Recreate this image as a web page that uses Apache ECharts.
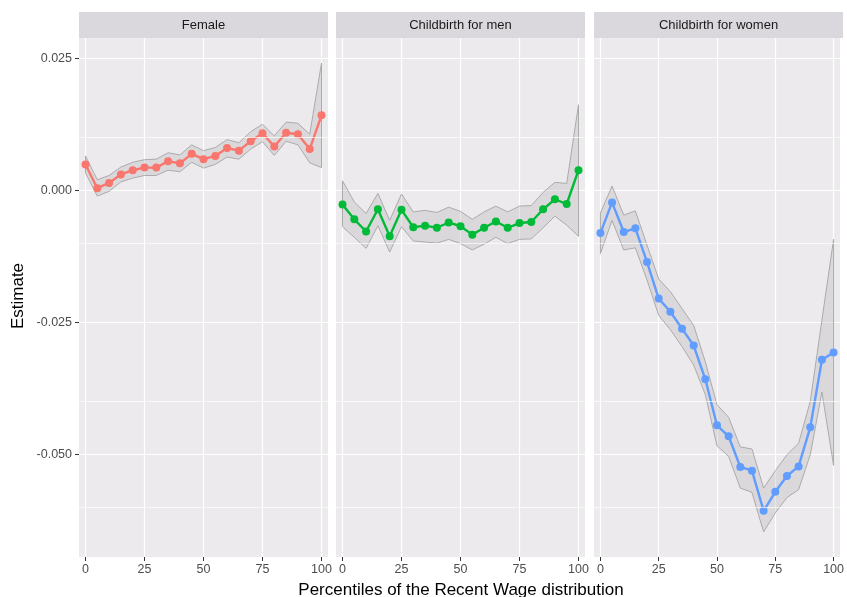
<!DOCTYPE html>
<html>
<head>
<meta charset="utf-8">
<script src="https://cdn.jsdelivr.net/npm/echarts@6/dist/echarts.min.js"></script>
<style>
  html, body { margin: 0; padding: 0; background: #ffffff; }
  #chart { width: 847px; height: 597px; }
</style>
</head>
<body>
<div id="chart"></div>
<script>
// Percentile positions shared by all three facets
const percentiles = [0, 5, 10, 15, 20, 25, 30, 35, 40, 45, 50, 55, 60, 65, 70, 75, 80, 85, 90, 95, 100];

const panelTitles = ['Female', 'Childbirth for men', 'Childbirth for women'];

// Female
const femaleEst  = [0.0049, 0.0004, 0.0014, 0.0030, 0.0038, 0.0043, 0.0043, 0.0055, 0.0051, 0.0069, 0.0059, 0.0065, 0.0080, 0.0075, 0.0093, 0.0108, 0.0083, 0.0109, 0.0106, 0.0078, 0.0142];
const femaleLow  = [0.0033, -0.0011, -0.0002, 0.0016, 0.0023, 0.0028, 0.0028, 0.0038, 0.0035, 0.0053, 0.0042, 0.0049, 0.0063, 0.0059, 0.0078, 0.0092, 0.0066, 0.0093, 0.0086, 0.0052, 0.0043];
const femaleHigh = [0.0065, 0.0020, 0.0028, 0.0044, 0.0053, 0.0058, 0.0059, 0.0071, 0.0067, 0.0086, 0.0075, 0.0081, 0.0096, 0.0090, 0.0111, 0.0125, 0.0103, 0.0129, 0.0127, 0.0106, 0.0241];

// Childbirth for men
const menEst  = [-0.0027, -0.0055, -0.0078, -0.0036, -0.0087, -0.0037, -0.0070, -0.0067, -0.0071, -0.0061, -0.0068, -0.0084, -0.0071, -0.0059, -0.0071, -0.0062, -0.0060, -0.0036, -0.0017, -0.0026, 0.0038];
const menLow  = [-0.0069, -0.0089, -0.0110, -0.0067, -0.0117, -0.0069, -0.0096, -0.0098, -0.0100, -0.0093, -0.0101, -0.0113, -0.0102, -0.0089, -0.0101, -0.0093, -0.0092, -0.0071, -0.0049, -0.0066, -0.0087];
const menHigh = [0.0018, -0.0022, -0.0044, -0.0006, -0.0057, -0.0007, -0.0041, -0.0038, -0.0042, -0.0032, -0.0040, -0.0055, -0.0041, -0.0030, -0.0041, -0.0030, -0.0029, -0.0004, 0.0015, 0.0013, 0.0162];

// Childbirth for women
const womenEst  = [-0.0081, -0.0023, -0.0079, -0.0072, -0.0136, -0.0205, -0.0230, -0.0262, -0.0294, -0.0358, -0.0445, -0.0466, -0.0524, -0.0531, -0.0607, -0.0571, -0.0541, -0.0523, -0.0449, -0.0321, -0.0307];
const womenLow  = [-0.0120, -0.0057, -0.0113, -0.0109, -0.0170, -0.0237, -0.0264, -0.0296, -0.0331, -0.0387, -0.0484, -0.0504, -0.0564, -0.0572, -0.0647, -0.0611, -0.0582, -0.0567, -0.0501, -0.0382, -0.0521];
const womenHigh = [-0.0043, 0.0008, -0.0047, -0.0039, -0.0104, -0.0168, -0.0192, -0.0224, -0.0256, -0.0325, -0.0406, -0.0430, -0.0486, -0.0490, -0.0564, -0.0531, -0.0501, -0.0479, -0.0400, -0.0246, -0.0093];

const xTicks = [0, 25, 50, 75, 100];
const yTicks = [-0.05, -0.025, 0, 0.025];
const yMinor = [-0.0625, -0.0375, -0.0125, 0.0125];

const xTitle = 'Percentiles of the Recent Wage distribution';
const yTitle = 'Estimate';

const panels = [
  { est: femaleEst, low: femaleLow, high: femaleHigh, color: '#F8766D' },
  { est: menEst,    low: menLow,    high: menHigh,    color: '#00BA38' },
  { est: womenEst,  low: womenLow,  high: womenHigh,  color: '#619CFF' }
];

const FONT = '"Liberation Sans", Arial, sans-serif';
const panelLefts = [79, 336, 594];
const panelWidth = 249;
const panelTop = 38;
const panelHeight = 519;
const panelBg = '#EDEAEE';
const stripBg = '#DAD8DC';

const grids = [], xAxes = [], yAxes = [], series = [], graphics = [];

panels.forEach((p, i) => {
  grids.push({
    left: panelLefts[i], top: panelTop, width: panelWidth, height: panelHeight,
    show: true, backgroundColor: panelBg, borderWidth: 0
  });

  xAxes.push({
    type: 'value', gridIndex: i, min: -2.75, max: 102.75, position: 'bottom',
    axisLine: { show: false, onZero: false },
    axisTick: { show: true, customValues: xTicks, length: 4, lineStyle: { color: '#333333', width: 1 } },
    axisLabel: { customValues: xTicks, color: '#4D4D4D', fontSize: 12.5, fontFamily: FONT, margin: 6 },
    splitLine: { show: true, lineStyle: { color: '#ffffff', width: 1.2 } }
  });

  yAxes.push({
    type: 'value', gridIndex: i, min: -0.06945, max: 0.02884, position: 'left',
    axisLine: { show: false, onZero: false },
    axisTick: { show: i === 0, customValues: yTicks, length: 4, lineStyle: { color: '#333333', width: 1 } },
    axisLabel: {
      show: i === 0, customValues: yTicks, color: '#4D4D4D', fontSize: 12.5, fontFamily: FONT, margin: 7,
      formatter: v => v.toFixed(3)
    },
    splitLine: { show: true, lineStyle: { color: '#ffffff', width: 1.2 } }
  });

  // thin minor grid lines between the major y breaks
  series.push({
    type: 'line', xAxisIndex: i, yAxisIndex: i, data: [], z: 1, silent: true,
    markLine: {
      silent: true, symbol: 'none', animation: false,
      label: { show: false },
      lineStyle: { color: '#ffffff', width: 0.7, type: 'solid' },
      data: yMinor.map(v => ({ yAxis: v }))
    }
  });

  // confidence ribbon
  series.push({
    type: 'custom', xAxisIndex: i, yAxisIndex: i, z: 2, silent: true,
    data: [[0, 0]],
    renderItem: (params, api) => {
      const pts = [];
      for (let k = 0; k < percentiles.length; k++) pts.push(api.coord([percentiles[k], p.high[k]]));
      for (let k = percentiles.length - 1; k >= 0; k--) pts.push(api.coord([percentiles[k], p.low[k]]));
      return {
        type: 'polygon',
        shape: { points: pts },
        style: { fill: 'rgba(170,170,172,0.28)', stroke: '#ABABAB', lineWidth: 1 }
      };
    }
  });

  // point estimates
  series.push({
    type: 'line', xAxisIndex: i, yAxisIndex: i, z: 3, silent: true,
    data: percentiles.map((x, k) => [x, p.est[k]]),
    symbol: 'circle', symbolSize: 8, showSymbol: true,
    lineStyle: { color: p.color, width: 2.4 },
    itemStyle: { color: p.color, borderWidth: 0 }
  });

  // facet strip
  graphics.push({
    type: 'rect', left: panelLefts[i], top: 12,
    shape: { width: panelWidth, height: 26 },
    style: { fill: stripBg }
  });
  graphics.push({
    type: 'text',
    x: panelLefts[i] + panelWidth / 2, y: 25,
    style: {
      text: panelTitles[i], fill: '#1A1A1A', fontSize: 13, fontFamily: FONT,
      align: 'center', verticalAlign: 'middle'
    }
  });
});

graphics.push({
  type: 'text', x: 461, y: 590,
  style: { text: xTitle, fill: '#000000', fontSize: 17, fontFamily: FONT, align: 'center', verticalAlign: 'middle' }
});
graphics.push({
  type: 'text', x: 18, y: 296, rotation: Math.PI / 2,
  style: { text: yTitle, fill: '#000000', fontSize: 17, fontFamily: FONT, align: 'center', verticalAlign: 'middle' }
});

const chart = echarts.init(document.getElementById('chart'), null, { renderer: 'canvas' });
chart.setOption({
  animation: false,
  backgroundColor: '#ffffff',
  grid: grids,
  xAxis: xAxes,
  yAxis: yAxes,
  series: series,
  graphic: graphics
});
</script>
</body>
</html>
